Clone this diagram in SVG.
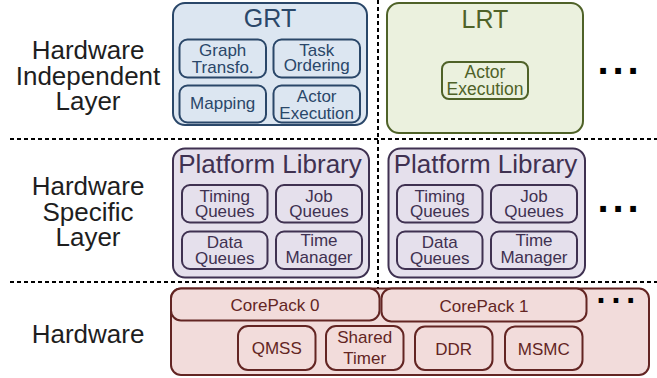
<svg xmlns="http://www.w3.org/2000/svg" width="657" height="378" viewBox="0 0 657 378">
<style>
text{font-family:"Liberation Sans",Arial,sans-serif;text-anchor:middle}
.lbl{font-size:26px;fill:#1e1e1e}
.t{font-size:25px}
.pt{font-size:26px}
.s{font-size:17px}
.b rect{fill:#dce6f1;stroke:#2a4769;stroke-width:2}
.b text{fill:#2a4769}
.g rect{fill:#ebf1de;stroke:#4f6228;stroke-width:2}
.g text{fill:#4f6228}
.p rect{fill:#e5e0ec;stroke:#3f3151;stroke-width:2}
.p text{fill:#3f3151}
.r rect{fill:#f2dcdb;stroke:#632523;stroke-width:2}
.r text{fill:#632523}
.dots{font-family:"DejaVu Sans",sans-serif;font-weight:bold;text-anchor:start;fill:#000}
.sep{stroke:#000;stroke-width:2;stroke-dasharray:4 3;fill:none}
</style>
<g id="separators">
<line class="sep" x1="10" y1="139" x2="657" y2="139"/>
<line class="sep" x1="10" y1="282" x2="657" y2="282"/>
<line class="sep" x1="378" y1="0" x2="378" y2="288"/>
</g>
<g id="layer-labels">
<text class="lbl" x="88" y="59">Hardware</text>
<text class="lbl" x="88" y="85">Independent</text>
<text class="lbl" x="88" y="110">Layer</text>
<text class="lbl" x="88" y="195">Hardware</text>
<text class="lbl" x="88" y="221">Specific</text>
<text class="lbl" x="88" y="246">Layer</text>
<text class="lbl" x="88" y="343">Hardware</text>
</g>
<g id="grt" class="b">
<rect x="173" y="3" width="194" height="122" rx="12"/>
<text class="t" x="270" y="27">GRT</text>
<g id="graph-transfo">
<rect x="179.5" y="39.5" width="86.5" height="38" rx="8"/>
<text class="s" x="222.7" y="56">Graph</text>
<text class="s" x="222.7" y="73">Transfo.</text>
</g>
<g id="task-ordering">
<rect x="273.5" y="39.5" width="86.5" height="38" rx="8"/>
<text class="s" x="316.7" y="56">Task</text>
<text class="s" x="316.7" y="71">Ordering</text>
</g>
<g id="mapping">
<rect x="179.5" y="85.5" width="86.5" height="37" rx="8"/>
<text class="s" x="222.7" y="109">Mapping</text>
</g>
<g id="grt-actor-execution">
<rect x="273.5" y="85.5" width="86.5" height="37" rx="8"/>
<text class="s" x="316.7" y="102">Actor</text>
<text class="s" x="316.7" y="119">Execution</text>
</g>
</g>
<g id="lrt" class="g">
<rect x="387" y="3" width="196" height="130" rx="12"/>
<text class="t" x="485" y="28">LRT</text>
<g id="lrt-actor-execution">
<rect x="442" y="62" width="86" height="37" rx="7"/>
<text x="485" y="77.5" style="font-size:17.5px">Actor</text>
<text x="485" y="95" style="font-size:17.5px">Execution</text>
</g>
</g>
<g id="platform-library-0" class="p">
<rect x="173" y="148.5" width="196" height="129" rx="12"/>
<text class="pt" x="270" y="173">Platform Library</text>
<g id="timing-queues-0">
<rect x="182" y="185" width="85.5" height="37.5" rx="8"/>
<text class="s" x="224.7" y="201.5">Timing</text>
<text class="s" x="224.7" y="216.5">Queues</text>
</g>
<g id="job-queues-0">
<rect x="276" y="185" width="86" height="37.5" rx="8"/>
<text class="s" x="319" y="201.5">Job</text>
<text class="s" x="319" y="216.5">Queues</text>
</g>
<g id="data-queues-0">
<rect x="182" y="231.5" width="85.5" height="37.5" rx="8"/>
<text class="s" x="224.7" y="248">Data</text>
<text class="s" x="224.7" y="264">Queues</text>
</g>
<g id="time-manager-0">
<rect x="276" y="231.5" width="86" height="37.5" rx="8"/>
<text class="s" x="319" y="246">Time</text>
<text class="s" x="319" y="262.5">Manager</text>
</g>
</g>
<g id="platform-library-1" class="p">
<rect x="388.5" y="148.5" width="196.5" height="129" rx="12"/>
<text class="pt" x="485.5" y="173">Platform Library</text>
<g id="timing-queues-1">
<rect x="397" y="185" width="85.5" height="37.5" rx="8"/>
<text class="s" x="439.7" y="201.5">Timing</text>
<text class="s" x="439.7" y="216.5">Queues</text>
</g>
<g id="job-queues-1">
<rect x="491" y="185" width="86" height="37.5" rx="8"/>
<text class="s" x="534" y="201.5">Job</text>
<text class="s" x="534" y="216.5">Queues</text>
</g>
<g id="data-queues-1">
<rect x="397" y="231.5" width="85.5" height="37.5" rx="8"/>
<text class="s" x="439.7" y="248">Data</text>
<text class="s" x="439.7" y="264">Queues</text>
</g>
<g id="time-manager-1">
<rect x="491" y="231.5" width="86" height="37.5" rx="8"/>
<text class="s" x="534" y="246">Time</text>
<text class="s" x="534" y="262.5">Manager</text>
</g>
</g>
<g id="hardware" class="r">
<rect x="171" y="288.5" width="478" height="86.5" rx="10"/>
<g id="corepack-0">
<rect x="171" y="288.5" width="208.5" height="32" rx="10"/>
<text class="s" x="275" y="311">CorePack 0</text>
</g>
<g id="corepack-1">
<rect x="381.5" y="288.5" width="205" height="33" rx="10"/>
<text class="s" x="484" y="312">CorePack 1</text>
</g>
<g id="qmss">
<rect x="238" y="326" width="77.5" height="44" rx="10"/>
<text class="s" x="276.7" y="353.5">QMSS</text>
</g>
<g id="shared-timer">
<rect x="326" y="326" width="77.5" height="44" rx="10"/>
<text class="s" x="364.7" y="343">Shared</text>
<text class="s" x="364.7" y="364">Timer</text>
</g>
<g id="ddr">
<rect x="415" y="326.5" width="77.5" height="43.5" rx="10"/>
<text class="s" x="453.7" y="355">DDR</text>
</g>
<g id="msmc">
<rect x="505" y="326.5" width="77.5" height="43.5" rx="10"/>
<text class="s" x="543.7" y="355">MSMC</text>
</g>
</g>
<g id="ellipses">
<text class="dots" x="597" y="74" style="font-size:32px;letter-spacing:2.8px">...</text>
<text class="dots" x="597" y="212" style="font-size:32px;letter-spacing:2.8px">...</text>
<text class="dots" x="596" y="302.6" style="font-size:26px;letter-spacing:5px">...</text>
</g>
</svg>
